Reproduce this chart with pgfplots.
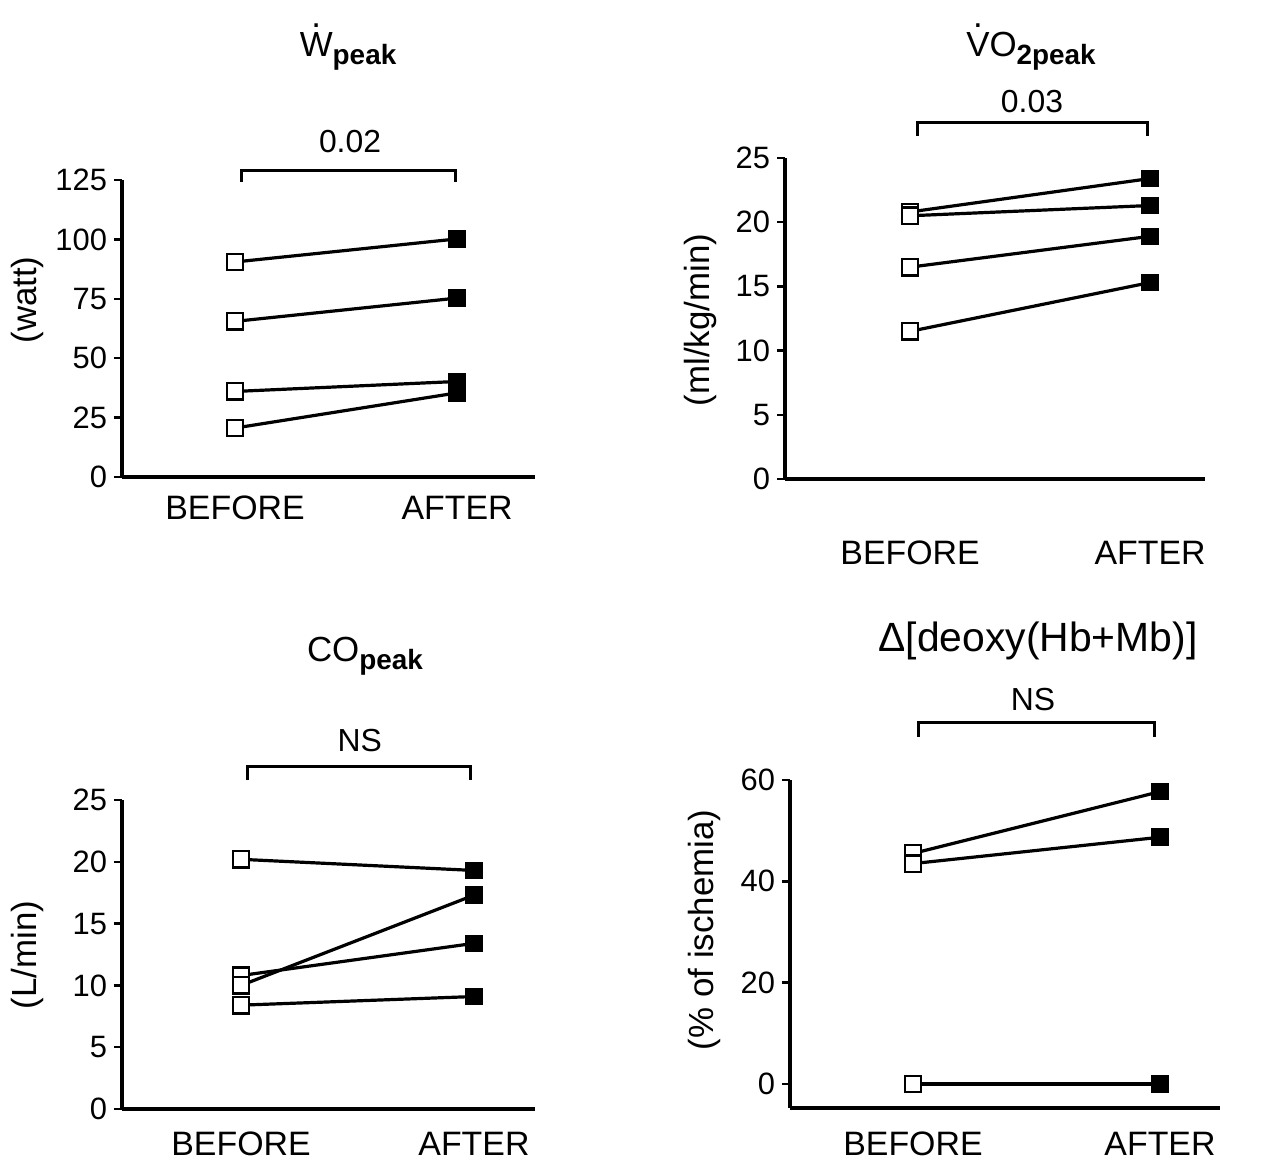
\documentclass[border=0pt]{standalone}
\usepackage{fontspec}
\setmainfont{Liberation Sans}
\usepackage{pgfplots}
\pgfplotsset{compat=1.18}
\newcommand\dotover[1]{\ooalign{\hfil#1\hfil\cr\hfil\raisebox{0.84em}{.}\hfil\cr}}
\newcommand\subpk[1]{\raisebox{-0.22em}{\fontsize{14}{14}\selectfont\bfseries #1}}
\tikzset{
 ttl/.style={font=\fontsize{17.5}{20}\selectfont, anchor=base},
 ann/.style={font=\fontsize{16}{19}\selectfont},
 brk/.style={line width=1.5bp, black},
}
\pgfplotsset{
 panel/.style={
  scale only axis, axis x line=bottom, axis y line=left,
  axis line style={-, line width=1.6bp, black},
  xtick={0,1}, xticklabels={BEFORE,AFTER},
  x tick style={draw=none},
  y tick style={line width=1.2bp, black},
  tick align=outside, major tick length=4bp,
  yticklabel style={font=\fontsize{15.5}{18}\selectfont},
  xticklabel style={font=\fontsize{17}{20}\selectfont},
  ylabel style={font=\fontsize{17.5}{20}\selectfont, anchor=center},
  /pgf/number format/assume math mode=true,
  clip=false, anchor=south west,
 },
 subj/.style={black, line width=1.6bp, no marks},
 pre/.style={only marks, mark=square*, mark size=4.1bp, mark options={fill=white, draw=black, line width=1.2bp}},
 post/.style={only marks, mark=square*, mark size=4.1bp, mark options={fill=black, draw=black, line width=0.6bp}},
}
\begin{document}
\begin{tikzpicture}
\useasboundingbox (0,0) rectangle (643bp,581.5bp);
% Panel 1: W peak
\begin{axis}[panel, at={(61bp,343bp)}, width=206.5bp, height=148.5bp,
  xmin=-0.509, xmax=1.351, ymin=0, ymax=125, ytick={0,25,50,75,100,125},
  xticklabel style={yshift=-2bp},
  ylabel={(watt)}, ylabel style={at={(rel axis cs:-0.228,0.596)}}]
\addplot[subj] coordinates {(0,90.5) (1,100.2)};
\addplot[subj] coordinates {(0,65.5) (1,75.3)};
\addplot[subj] coordinates {(0,36) (1,40.2)};
\addplot[subj] coordinates {(0,20.6) (1,35.4)};
\addplot[pre] coordinates {(0,90.5) (0,65.5) (0,36) (0,20.6)};
\addplot[post] coordinates {(1,100.2) (1,75.3) (1,40.2) (1,35.4)};
\draw[brk] (axis cs:0.027,124.2) -- (axis cs:0.027,129.2) -- (axis cs:0.991,129.2) -- (axis cs:0.991,124.2);
\node[ann] at (axis cs:0.518,141) {0.02};
\node[ttl] at (axis cs:0.509,176.8) {\dotover{W}\subpk{peak}};
\end{axis}
% Panel 2: VO2 peak
\begin{axis}[panel, at={(392.5bp,342bp)}, width=210bp, height=160.5bp,
  xmin=-0.521, xmax=1.229, ymin=0, ymax=25, ytick={0,5,10,15,20,25},
  xticklabel style={yshift=-23.5bp},
  ylabel={(ml/kg/min)}, ylabel style={at={(rel axis cs:-0.202,0.495)}}]
\addplot[subj] coordinates {(0,20.8) (1,23.4)};
\addplot[subj] coordinates {(0,20.5) (1,21.3)};
\addplot[subj] coordinates {(0,16.5) (1,18.9)};
\addplot[subj] coordinates {(0,11.5) (1,15.3)};
\addplot[pre] coordinates {(0,20.8) (0,20.5) (0,16.5) (0,11.5)};
\addplot[post] coordinates {(1,23.4) (1,21.3) (1,18.9) (1,15.3)};
\draw[brk] (axis cs:0.03,26.7) -- (axis cs:0.03,27.8) -- (axis cs:0.99,27.8) -- (axis cs:0.99,26.7);
\node[ann] at (axis cs:0.508,29.4) {0.03};
\node[ttl] at (axis cs:0.504,32.9) {\dotover{V}O\subpk{2peak}};
\end{axis}
% Panel 3: CO peak
\begin{axis}[panel, at={(61bp,27bp)}, width=206.5bp, height=154.5bp,
  xmin=-0.511, xmax=1.262, ymin=0, ymax=25, ytick={0,5,10,15,20,25},
  xticklabel style={yshift=-4bp},
  ylabel={(L/min)}, ylabel style={at={(rel axis cs:-0.228,0.498)}}]
\addplot[subj] coordinates {(0,20.2) (1,19.3)};
\addplot[subj] coordinates {(0,10.0) (1,17.3)};
\addplot[subj] coordinates {(0,10.8) (1,13.4)};
\addplot[subj] coordinates {(0,8.4) (1,9.1)};
\addplot[pre] coordinates {(0,20.2) (0,10.8) (0,10.0) (0,8.4)};
\addplot[post] coordinates {(1,19.3) (1,17.3) (1,13.4) (1,9.1)};
\draw[brk] (axis cs:0.026,26.6) -- (axis cs:0.026,27.75) -- (axis cs:0.983,27.75) -- (axis cs:0.983,26.6);
\node[ann] at (axis cs:0.51,29.85) {NS};
\node[ttl] at (axis cs:0.532,36.2) {CO\subpk{peak}};
\end{axis}
% Panel 4: deoxy
\begin{axis}[panel, at={(395bp,27.5bp)}, width=215bp, height=164bp,
  xmin=-0.498, xmax=1.243, ymin=-4.74, ymax=60, ytick={0,20,40,60},
  xticklabel style={yshift=-4.5bp},
  ylabel={(\% of ischemia)}, ylabel style={at={(rel axis cs:-0.198,0.543)}}]
\addplot[subj] coordinates {(0,45.5) (1,57.7)};
\addplot[subj] coordinates {(0,43.5) (1,48.7)};
\addplot[subj] coordinates {(0,0) (1,0)};
\addplot[pre] coordinates {(0,45.5) (0,43.5) (0,0)};
\addplot[post] coordinates {(1,57.7) (1,48.7) (1,0)};
\draw[brk] (axis cs:0.024,68.5) -- (axis cs:0.024,71.4) -- (axis cs:0.976,71.4) -- (axis cs:0.976,68.5);
\node[ann] at (axis cs:0.486,75.8) {NS};
\node[ttl, font=\fontsize{20.5}{23}\selectfont] at (axis cs:0.506,85.4) {Δ[deoxy(Hb+Mb)]};
\end{axis}
\end{tikzpicture}
\end{document}
